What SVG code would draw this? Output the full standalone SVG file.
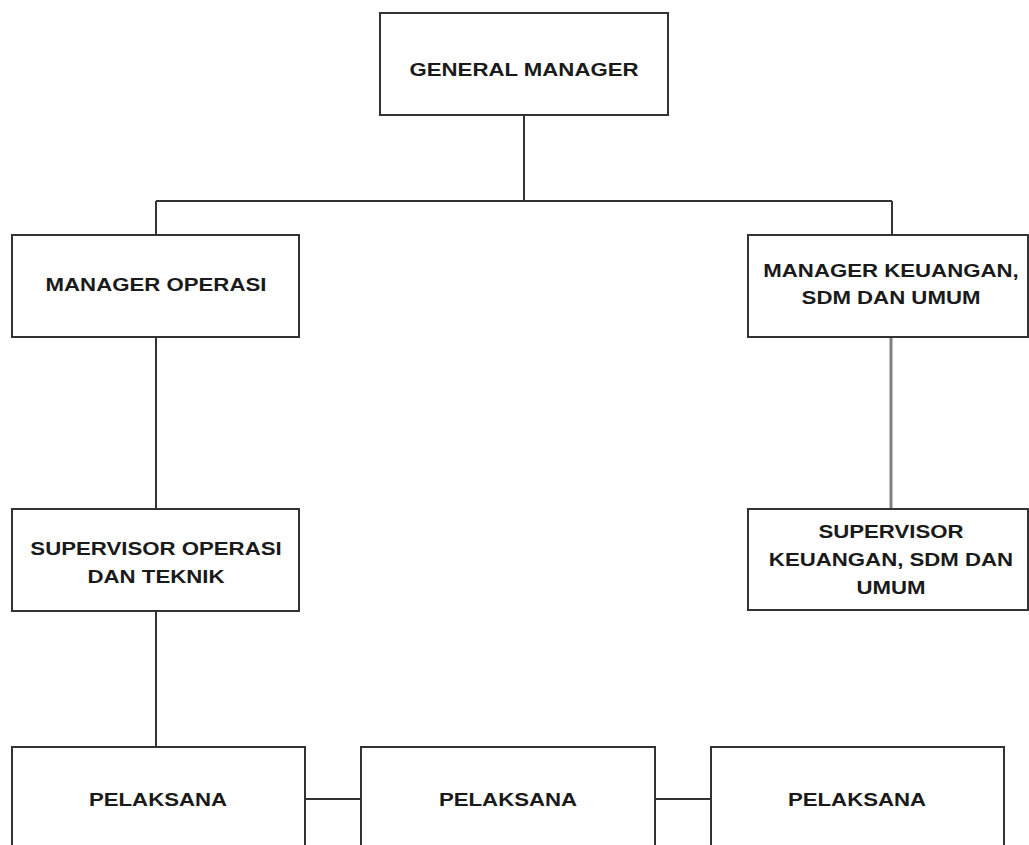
<svg xmlns="http://www.w3.org/2000/svg" width="1029" height="845" viewBox="0 0 1029 845">
<style>
.box{fill:#fff;stroke:#333;stroke-width:2}
.t{font-family:"Liberation Sans",Arial,sans-serif;font-weight:bold;font-size:19px;fill:#1a1a1a;text-anchor:middle}
.c{fill:none;stroke:#333;stroke-width:2}
.cg{fill:none;stroke:#808080;stroke-width:3}
</style>
<rect width="1029" height="845" fill="#fff"/>
<g id="connectors">
<path class="c" d="M524 115V201M156 201H892M156 201V235"/>
<path class="c" d="M892 201V235"/>
<path class="c" d="M156 337V509"/>
<path class="cg" d="M891 337V509"/>
<path class="c" d="M156 611V747"/>
<path class="c" d="M305 799H361M655 799H711"/>
</g>
<g id="gm">
<rect class="box" x="380" y="13" width="288" height="102"/>
<text class="t" transform="translate(524 76) scale(1.17 1)">GENERAL MANAGER</text>
</g>
<g id="mgr-operasi">
<rect class="box" x="12" y="235" width="287" height="102"/>
<text class="t" transform="translate(156 291) scale(1.17 1)">MANAGER OPERASI</text>
</g>
<g id="mgr-keuangan">
<rect class="box" x="748" y="235" width="280" height="102"/>
<text class="t" transform="translate(891 277) scale(1.17 1)">MANAGER KEUANGAN,</text>
<text class="t" transform="translate(891 304) scale(1.17 1)">SDM DAN UMUM</text>
</g>
<g id="spv-operasi">
<rect class="box" x="12" y="509" width="287" height="102"/>
<text class="t" transform="translate(156 555) scale(1.17 1)">SUPERVISOR OPERASI</text>
<text class="t" transform="translate(156 583) scale(1.17 1)">DAN TEKNIK</text>
</g>
<g id="spv-keuangan">
<rect class="box" x="748" y="509" width="280" height="101"/>
<text class="t" transform="translate(891 538) scale(1.17 1)">SUPERVISOR</text>
<text class="t" transform="translate(891 566) scale(1.17 1)">KEUANGAN, SDM DAN</text>
<text class="t" transform="translate(891 594) scale(1.17 1)">UMUM</text>
</g>
<g id="pelaksana-1">
<rect class="box" x="12" y="747" width="293" height="110"/>
<text class="t" transform="translate(158 806) scale(1.17 1)">PELAKSANA</text>
</g>
<g id="pelaksana-2">
<rect class="box" x="361" y="747" width="294" height="110"/>
<text class="t" transform="translate(508 806) scale(1.17 1)">PELAKSANA</text>
</g>
<g id="pelaksana-3">
<rect class="box" x="711" y="747" width="293" height="110"/>
<text class="t" transform="translate(857 806) scale(1.17 1)">PELAKSANA</text>
</g>
</svg>
